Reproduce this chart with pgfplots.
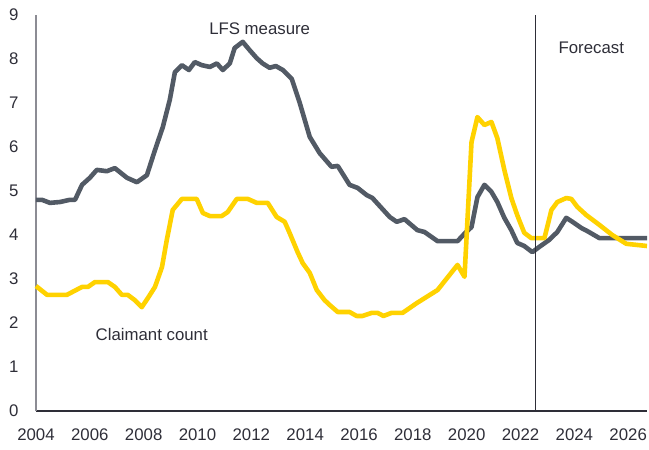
\documentclass[border=0pt]{standalone}
\usepackage{pgfplots}
\pgfplotsset{compat=1.18}
\usepackage{fontspec}
\setmainfont{Liberation Sans}
\definecolor{lfs}{HTML}{525A65}
\definecolor{cc}{HTML}{FFD200}
\definecolor{txt}{HTML}{2E2E38}
\definecolor{axl}{HTML}{8C8C94}
\begin{document}
\begin{tikzpicture}
\useasboundingbox (-36pt,-39pt) rectangle (613pt,411pt);
\begin{axis}[
  at={(0,0)}, anchor=south west,
  scale only axis, width=611pt, height=396pt,
  xmin=2004, xmax=2026.7, ymin=0, ymax=9,
  axis x line=bottom, axis y line=left,
  axis line style={-, line width=1.2pt},
  x axis line style={draw=txt},
  y axis line style={draw=axl},
  xtick={2004,2006,...,2026}, ytick={0,1,...,9},
  major tick length=0pt,
  /pgf/number format/assume math mode=true,
  xticklabel={\pgfmathprintnumber[1000 sep={}]{\tick}},
  tick label style={font=\fontsize{16.8}{18}\selectfont, text=txt},
  xticklabel style={yshift=-14pt},
  yticklabel style={xshift=-14pt},
  clip=false,
]
\addplot[lfs, line width=4.6pt, line join=round] coordinates {
(2004.00,4.80)(2004.22,4.80)(2004.52,4.73)(2004.89,4.75)(2005.26,4.80)(2005.45,4.80)
(2005.71,5.14)(2006.00,5.30)(2006.26,5.48)(2006.63,5.45)(2006.93,5.52)(2007.38,5.30)
(2007.75,5.20)(2008.12,5.36)(2008.42,5.93)(2008.71,6.45)(2008.97,7.07)(2009.16,7.70)
(2009.42,7.86)(2009.68,7.75)(2009.90,7.93)(2010.16,7.86)(2010.46,7.82)(2010.72,7.90)
(2010.94,7.75)(2011.20,7.90)(2011.38,8.25)(2011.68,8.39)(2011.94,8.20)(2012.20,8.02)
(2012.42,7.90)(2012.68,7.80)(2012.91,7.84)(2013.17,7.75)(2013.50,7.55)(2013.80,7.00)
(2014.17,6.23)(2014.54,5.86)(2014.98,5.55)(2015.21,5.57)(2015.65,5.14)(2015.95,5.07)
(2016.28,4.91)(2016.50,4.84)(2017.14,4.41)(2017.40,4.30)(2017.69,4.36)(2018.17,4.11)
(2018.43,4.07)(2018.92,3.86)(2019.66,3.86)(2019.95,4.05)(2020.18,4.18)(2020.40,4.86)
(2020.66,5.14)(2020.92,4.98)(2021.14,4.75)(2021.40,4.39)(2021.66,4.11)(2021.88,3.82)
(2022.14,3.75)(2022.44,3.61)(2022.70,3.73)(2023.07,3.89)(2023.37,4.07)(2023.70,4.39)
(2023.93,4.30)(2024.26,4.16)(2024.48,4.09)(2024.93,3.93)(2026.70,3.93)
};
\addplot[cc, line width=4.6pt, line join=round] coordinates {
(2004.00,2.84)(2004.41,2.64)(2005.15,2.64)(2005.71,2.82)(2005.93,2.82)(2006.19,2.93)
(2006.67,2.93)(2006.93,2.82)(2007.19,2.64)(2007.41,2.64)(2007.67,2.52)(2007.93,2.36)
(2008.16,2.57)(2008.42,2.82)(2008.68,3.27)(2008.86,3.89)(2009.08,4.57)(2009.42,4.82)
(2009.97,4.82)(2010.20,4.50)(2010.46,4.43)(2010.90,4.43)(2011.12,4.52)(2011.46,4.82)
(2011.87,4.82)(2012.20,4.73)(2012.61,4.73)(2012.94,4.41)(2013.24,4.30)(2013.42,4.05)
(2013.72,3.61)(2013.91,3.36)(2014.17,3.14)(2014.43,2.75)(2014.72,2.52)(2014.91,2.41)
(2015.21,2.25)(2015.65,2.25)(2015.91,2.16)(2016.13,2.16)(2016.47,2.23)(2016.69,2.23)
(2016.91,2.16)(2017.21,2.23)(2017.62,2.23)(2018.14,2.45)(2018.92,2.75)(2019.66,3.32)
(2019.92,3.05)(2020.18,6.11)(2020.40,6.68)(2020.66,6.50)(2020.92,6.57)(2021.14,6.20)
(2021.40,5.48)(2021.66,4.84)(2021.88,4.45)(2022.14,4.05)(2022.40,3.93)(2022.89,3.93)
(2023.15,4.57)(2023.37,4.75)(2023.70,4.84)(2023.89,4.82)(2024.11,4.64)(2024.45,4.45)
(2024.93,4.23)(2025.41,4.00)(2025.93,3.80)(2026.70,3.75)
};
\draw[txt, line width=1.1pt] (axis cs:2022.56,0) -- (axis cs:2022.56,9);
\node[text=txt, font=\fontsize{16.8}{18}\selectfont] at (axis cs:2012.31,8.68) {LFS measure};
\node[text=txt, font=\fontsize{16.8}{18}\selectfont] at (axis cs:2024.63,8.25) {Forecast};
\node[text=txt, font=\fontsize{16.8}{18}\selectfont] at (axis cs:2008.30,1.75) {Claimant count};
\end{axis}
\end{tikzpicture}
\end{document}
